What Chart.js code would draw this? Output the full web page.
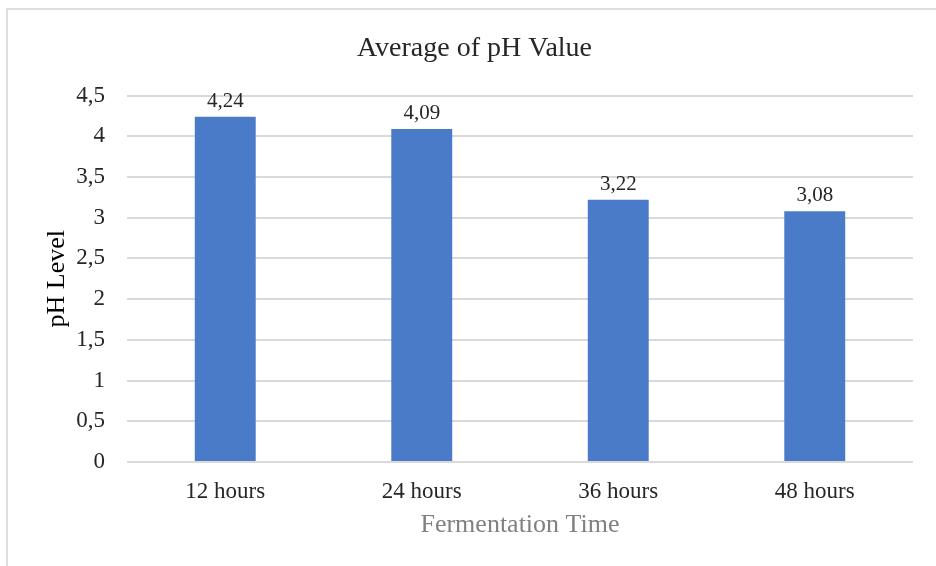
<!DOCTYPE html>
<html>
<head>
<meta charset="utf-8">
<script src="https://cdn.jsdelivr.net/npm/chart.js@4/dist/chart.umd.min.js"></script>
<style>
  html, body { margin: 0; padding: 0; background: #fff; }
  #wrap { position: relative; width: 936px; height: 566px; overflow: hidden; }
  #frame { position: absolute; left: 6px; top: 8px; right: -10px; bottom: -10px; border-top: 2px solid #dedede; border-left: 2px solid #dedede; }
  canvas { position: absolute; left: 0; top: 0; }
</style>
</head>
<body>
<div id="wrap">
  <div id="frame"></div>
  <canvas id="chart" width="936" height="566"></canvas>
</div>
<script>
const categories = ["12 hours", "24 hours", "36 hours", "48 hours"];
const phValues = [4.24, 4.09, 3.22, 3.08];
const yTicks = [0, 0.5, 1, 1.5, 2, 2.5, 3, 3.5, 4, 4.5];

const serif = "'Liberation Serif', 'Times New Roman', serif";
const comma = (v) => String(v).replace(".", ",");

// draws the value above each bar, with a decimal comma
const valueLabels = {
    id: "valueLabels",
    afterDatasetsDraw(chart) {
        const ctx = chart.ctx;
        ctx.save();
        ctx.font = "21px " + serif;
        ctx.fillStyle = "#262626";
        ctx.textAlign = "center";
        ctx.textBaseline = "bottom";
        chart.getDatasetMeta(0).data.forEach((bar, i) => {
            ctx.fillText(comma(phValues[i].toFixed(2)), bar.x, bar.y - 5);
        });
        ctx.restore();
    }
};

new Chart(document.getElementById("chart"), {
    type: "bar",
    data: {
        labels: categories,
        datasets: [{
            data: phValues,
            backgroundColor: "#4a7bc9",
            categoryPercentage: 1,
            barPercentage: 0.31
        }]
    },
    options: {
        responsive: false,
        animation: false,
        events: [],
        layout: { padding: { left: 36, right: 23, top: 20, bottom: 25 } },
        plugins: {
            legend: { display: false },
            tooltip: { enabled: false },
            title: {
                display: true,
                text: "Average of pH Value",
                color: "#262626",
                font: { family: serif, size: 28, weight: "normal" },
                padding: { top: 12, bottom: 30 }
            }
        },
        scales: {
            x: {
                grid: { display: false },
                border: { display: false },
                ticks: { color: "#262626", font: { family: serif, size: 23 }, padding: 8 },
                title: {
                    display: true,
                    text: "Fermentation Time",
                    color: "#808080",
                    font: { family: serif, size: 26 },
                    padding: { top: 0, bottom: 0 }
                },
                afterFit: (s) => { s.height = 79; }
            },
            y: {
                min: 0,
                max: 4.5,
                afterBuildTicks: (s) => { s.ticks = yTicks.map(v => ({ value: v })); },
                grid: { color: "#d9d9d9", lineWidth: 2, drawTicks: false },
                border: { display: false },
                ticks: {
                    color: "#262626",
                    font: { family: serif, size: 23 },
                    padding: 22,
                    callback: (v) => comma(v)
                },
                title: {
                    display: true,
                    text: "pH Level",
                    color: "#000",
                    font: { family: serif, size: 26 },
                    padding: { top: 6, bottom: 0 }
                },
                afterFit: (s) => { s.width = 91; }
            }
        }
    },
    plugins: [valueLabels]
});
</script>
</body>
</html>
